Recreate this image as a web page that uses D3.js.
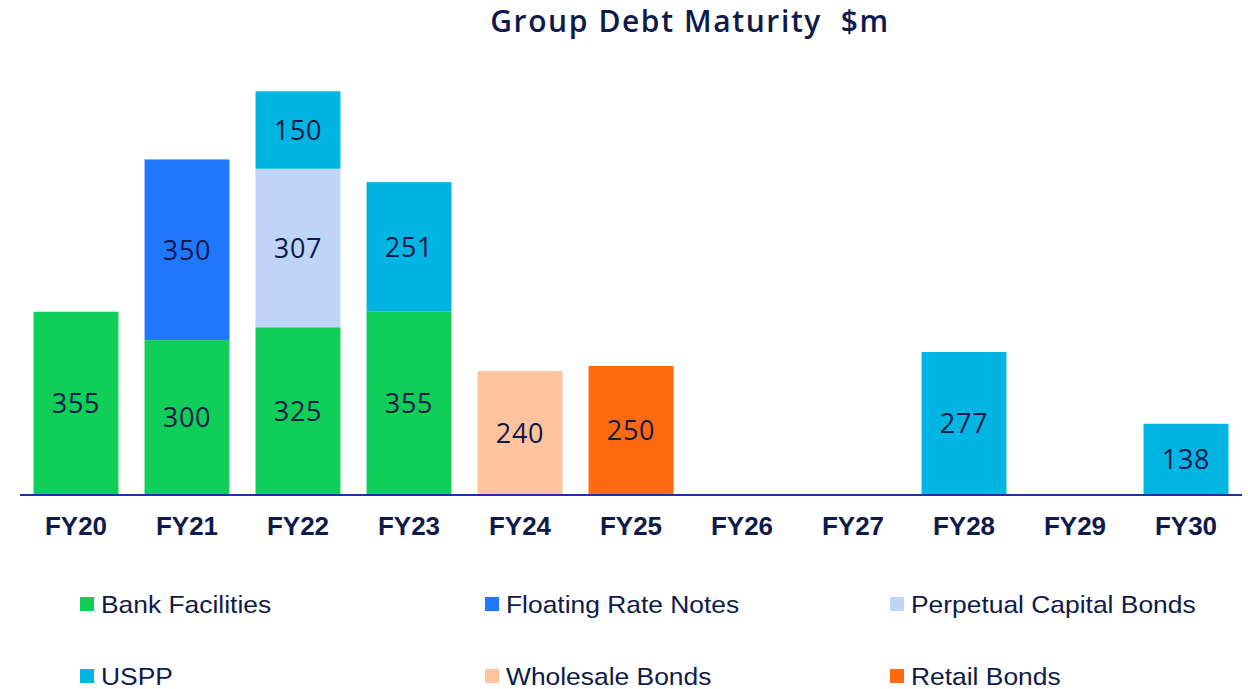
<!DOCTYPE html>
<html>
<head>
<meta charset="utf-8">
<script src="https://cdn.jsdelivr.net/npm/d3@7"></script>
<style>
  body { margin: 0; background: #fff; }
</style>
</head>
<body>
<div class="canvas"></div>
<script>
const years = ['FY20', 'FY21', 'FY22', 'FY23', 'FY24', 'FY25', 'FY26', 'FY27', 'FY28', 'FY29', 'FY30'];
const seriesNames = ['Bank Facilities', 'Floating Rate Notes', 'Perpetual Capital Bonds', 'USPP', 'Wholesale Bonds', 'Retail Bonds'];
const seriesColors = ['#10ce58', '#1f78ff', '#c0d4f8', '#00b5e2', '#ffc49e', '#ff6a10'];
const bankFacilities = [355, 300, 325, 355, 0, 0, 0, 0, 0, 0, 0];
const floatingRateNotes = [0, 350, 0, 0, 0, 0, 0, 0, 0, 0, 0];
const perpetualBonds = [0, 0, 307, 0, 0, 0, 0, 0, 0, 0, 0];
const uspp = [0, 0, 150, 251, 0, 0, 0, 0, 277, 0, 138];
const wholesaleBonds = [0, 0, 0, 0, 240, 0, 0, 0, 0, 0, 0];
const retailBonds = [0, 0, 0, 0, 0, 250, 0, 0, 0, 0, 0];

const seriesValues = [bankFacilities, floatingRateNotes, perpetualBonds, uspp, wholesaleBonds, retailBonds];
const table = years.map((y, i) => {
  const row = { year: y };
  seriesNames.forEach((s, j) => { row[s] = seriesValues[j][i]; });
  return row;
});

const width = 1248, height = 689;
const svg = d3.select('.canvas')
  .append('svg')
  .attr('width', width)
  .attr('height', height);

const x = d3.scaleBand()
  .domain(years)
  .range([20.5, 1241.5])
  .paddingInner(0.235)
  .paddingOuter(0.1175);

const y = d3.scaleLinear()
  .domain([0, 800])
  .range([495, 82]);

const stack = d3.stack().keys(seriesNames)(table);

svg.append('text')
  .attr('x', 690)
  .attr('y', 32)
  .attr('text-anchor', 'middle')
  .attr('font-family', 'Open Sans, sans-serif')
  .attr('font-weight', 600)
  .attr('font-size', 30)
  .attr('letter-spacing', 1.6)
  .attr('fill', '#0f1a4a')
  .style('white-space', 'pre')
  .text('Group Debt Maturity  $m');

const layers = svg.append('g').selectAll('g')
  .data(stack)
  .join('g')
  .attr('fill', (d, i) => seriesColors[i]);

layers.selectAll('rect')
  .data(d => d.filter(p => p[1] - p[0] > 0))
  .join('rect')
  .attr('x', d => x(d.data.year))
  .attr('width', x.bandwidth())
  .attr('y', d => y(d[1]))
  .attr('height', d => y(d[0]) - y(d[1]));

layers.selectAll('text')
  .data(d => d.filter(p => p[1] - p[0] > 0))
  .join('text')
  .attr('x', d => x(d.data.year) + x.bandwidth() / 2)
  .attr('y', d => (y(d[0]) + y(d[1])) / 2)
  .attr('dy', '0.36em')
  .attr('text-anchor', 'middle')
  .attr('font-family', 'Open Sans, sans-serif')
  .attr('font-size', 27)
  .attr('letter-spacing', 0.8)
  .attr('fill', '#0f1a4a')
  .text(d => d[1] - d[0]);

const axis = svg.append('g')
  .attr('transform', `translate(0, ${y(0)})`)
  .call(d3.axisBottom(x).tickSize(0).tickPadding(22));
axis.select('.domain')
  .attr('stroke', '#1f2fa8')
  .attr('stroke-width', 2)
  .attr('d', 'M20,0H1242');
axis.selectAll('text')
  .attr('font-family', 'Liberation Sans, Arial, sans-serif')
  .attr('font-weight', 'bold')
  .attr('font-size', 26)
  .attr('fill', '#0f1a4a')
  .attr('dy', '0.71em');

const legend = svg.append('g')
  .selectAll('g')
  .data(seriesNames)
  .join('g')
  .attr('transform', (d, i) => `translate(${80 + (i % 3) * 405}, ${604 + Math.floor(i / 3) * 72})`);
legend.append('rect')
  .attr('x', 0)
  .attr('y', -7)
  .attr('width', 14)
  .attr('height', 14)
  .attr('fill', (d, i) => seriesColors[i]);
legend.append('text')
  .attr('transform', 'translate(21,0) scale(1.1,1)')
  .attr('dy', '0.36em')
  .attr('font-family', 'Liberation Sans, Arial, sans-serif')
  .attr('font-size', 24)
  .attr('fill', '#0f1a4a')
  .text(d => d);
</script>
</body>
</html>
